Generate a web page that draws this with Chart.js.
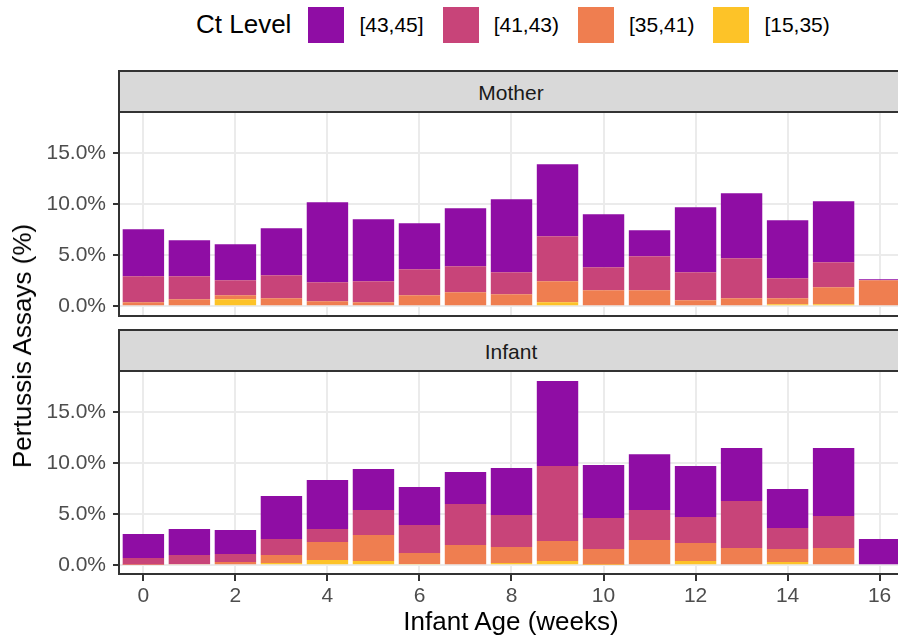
<!DOCTYPE html>
<html>
<head>
<meta charset="utf-8">
<script src="https://cdn.jsdelivr.net/npm/chart.js@4.4.0/dist/chart.umd.min.js"></script>
<style>
  body { margin:0; width:898px; height:641px; overflow:hidden; background:#fff; position:relative;
         font-family:"Liberation Sans", Arial, sans-serif; }
  canvas { position:absolute; left:0; }
  .strip { position:absolute; box-sizing:border-box; left:118px; width:800px; height:43px;
           background:#D9D9D9; border:2px solid #333; }
  .lab { position:absolute; transform:translate(-50%,-50%); line-height:1; white-space:nowrap; }
  .legend { position:absolute; left:196px; top:6px; height:37px; display:flex; align-items:center; }
  .legend .title { font-size:26px; margin-right:17px; }
  .legend .key { width:36px; height:36px; margin-right:15px; }
  .legend .txt { font-size:21px; margin-right:19px; }
</style>
</head>
<body>
<div class="legend" id="legend"><span class="title">Ct Level</span></div>

<canvas id="mother" width="910" height="254" style="top:87px"></canvas>
<canvas id="infant" width="910" height="268" style="top:346px"></canvas>

<div class="strip" style="top:70px"></div>
<div class="lab" style="left:511px;top:92px;font-size:21px;color:#1A1A1A">Mother</div>
<div class="strip" style="top:329px"></div>
<div class="lab" style="left:511px;top:351px;font-size:21px;color:#1A1A1A">Infant</div>

<div class="lab" style="left:22px;top:346px;font-size:26px;transform:translate(-50%,-50%) rotate(-90deg)">Pertussis Assays (%)</div>
<div class="lab" style="left:511px;top:621px;font-size:26px">Infant Age (weeks)</div>

<script>
// infant age in weeks
var weeks = [0, 1, 2, 3, 4, 5, 6, 7, 8, 9, 10, 11, 12, 13, 14, 15, 16];

// Ct level groups, bottom of stack first
var levels = ['[15,35)', '[35,41)', '[41,43)', '[43,45]'];
var levelColors = ['#FDC328', '#EF7E50', '#C84479', '#8F0DA4'];

// Mother, % of assays per Ct level
var mother15 = [0, 0.1, 0.69, 0.1, 0, 0, 0.1, 0, 0.1, 0.39, 0.1, 0, 0, 0, 0.2, 0.2, 0];
var mother35 = [0.39, 0.59, 0.39, 0.68, 0.49, 0.39, 0.98, 1.37, 1.08, 2.06, 1.47, 1.57, 0.59, 0.78, 0.58, 1.66, 2.55];
var mother41 = [2.55, 2.25, 1.47, 2.26, 1.86, 2.06, 2.55, 2.55, 2.15, 4.41, 2.25, 3.33, 2.74, 3.93, 1.97, 2.45, 0];
var mother43 = [4.61, 3.53, 3.53, 4.61, 7.85, 6.08, 4.51, 5.69, 7.16, 7.06, 5.2, 2.55, 6.38, 6.37, 5.68, 5.99, 0.1];

// Infant
var infant15 = [0, 0, 0, 0.23, 0.52, 0.42, 0.13, 0, 0.23, 0.42, 0.05, 0, 0.42, 0, 0.32, 0, 0];
var infant35 = [0.05, 0.13, 0.32, 0.78, 1.76, 2.55, 1.07, 1.99, 1.56, 1.96, 1.55, 2.48, 1.77, 1.7, 1.28, 1.7, 0];
var infant41 = [0.67, 0.88, 0.79, 1.57, 1.28, 2.45, 2.75, 4.02, 3.14, 7.36, 3.04, 2.94, 2.55, 4.6, 2.06, 3.13, 0];
var infant43 = [2.35, 2.55, 2.35, 4.21, 4.8, 4.02, 3.72, 3.14, 4.61, 8.33, 5.19, 5.48, 5.0, 5.2, 3.82, 6.67, 2.58];

var xTicks = [0, 2, 4, 6, 8, 10, 12, 14, 16];
var yTicks = [0, 5, 10, 15];

// legend (top to bottom of the stack, like ggplot)
var legend = document.getElementById('legend');
for (var i = levels.length - 1; i >= 0; i--) {
  var k = document.createElement('span');
  k.className = 'key';
  k.style.background = levelColors[i];
  var t = document.createElement('span');
  t.className = 'txt';
  t.textContent = levels[i];
  legend.appendChild(k);
  legend.appendChild(t);
}

var font = { family: 'Liberation Sans', size: 21 };

function makePanel(id, series, showX, yMin, padTop) {
  var datasets = series.map(function (vals, i) {
    return {
      label: levels[i],
      data: weeks.map(function (w, j) { return { x: w, y: vals[j] }; }),
      backgroundColor: levelColors[i],
      borderWidth: 0,
      barPercentage: 0.9,
      categoryPercentage: 1.0
    };
  });

  return new Chart(document.getElementById(id), {
    type: 'bar',
    data: { datasets: datasets },
    options: {
      responsive: false,
      animation: false,
      layout: { padding: { top: padTop, right: 6, bottom: showX ? 0 : 25, left: 0 } },
      plugins: { legend: { display: false }, tooltip: { enabled: false } },
      scales: {
        x: {
          type: 'linear',
          stacked: true,
          offset: false,
          min: -0.53,
          max: 16.53,
          afterBuildTicks: function (s) { s.ticks = xTicks.map(function (v) { return { value: v }; }); },
          afterFit: function (s) { s.height = showX ? 40 : 0; s.paddingLeft = 0; s.paddingRight = 0; },
          grid: { offset: false, color: '#EBEBEB', lineWidth: 2, drawTicks: showX,
                  tickColor: '#333333', tickLength: 7, tickWidth: 2 },
          border: { display: true, color: '#333333', width: 2 },
          ticks: { display: showX, color: '#4D4D4D', font: font, padding: 3, maxRotation: 0 }
        },
        y: {
          stacked: true,
          min: yMin,
          max: 19.05,
          afterBuildTicks: function (s) { s.ticks = yTicks.map(function (v) { return { value: v }; }); },
          afterFit: function (s) { s.width = 119; s.paddingTop = 0; s.paddingBottom = 0; },
          grid: { color: '#EBEBEB', lineWidth: 2, tickColor: '#333333', tickLength: 6, tickWidth: 2 },
          border: { display: true, color: '#333333', width: 2 },
          ticks: {
            color: '#4D4D4D', font: font, padding: 7,
            callback: function (v) { return v.toFixed(1) + '%'; }
          }
        }
      }
    }
  });
}

makePanel('mother', [mother15, mother35, mother41, mother43], false, -0.95, 25);
makePanel('infant', [infant15, infant35, infant41, infant43], true, -0.85, 25);
</script>
</body>
</html>
